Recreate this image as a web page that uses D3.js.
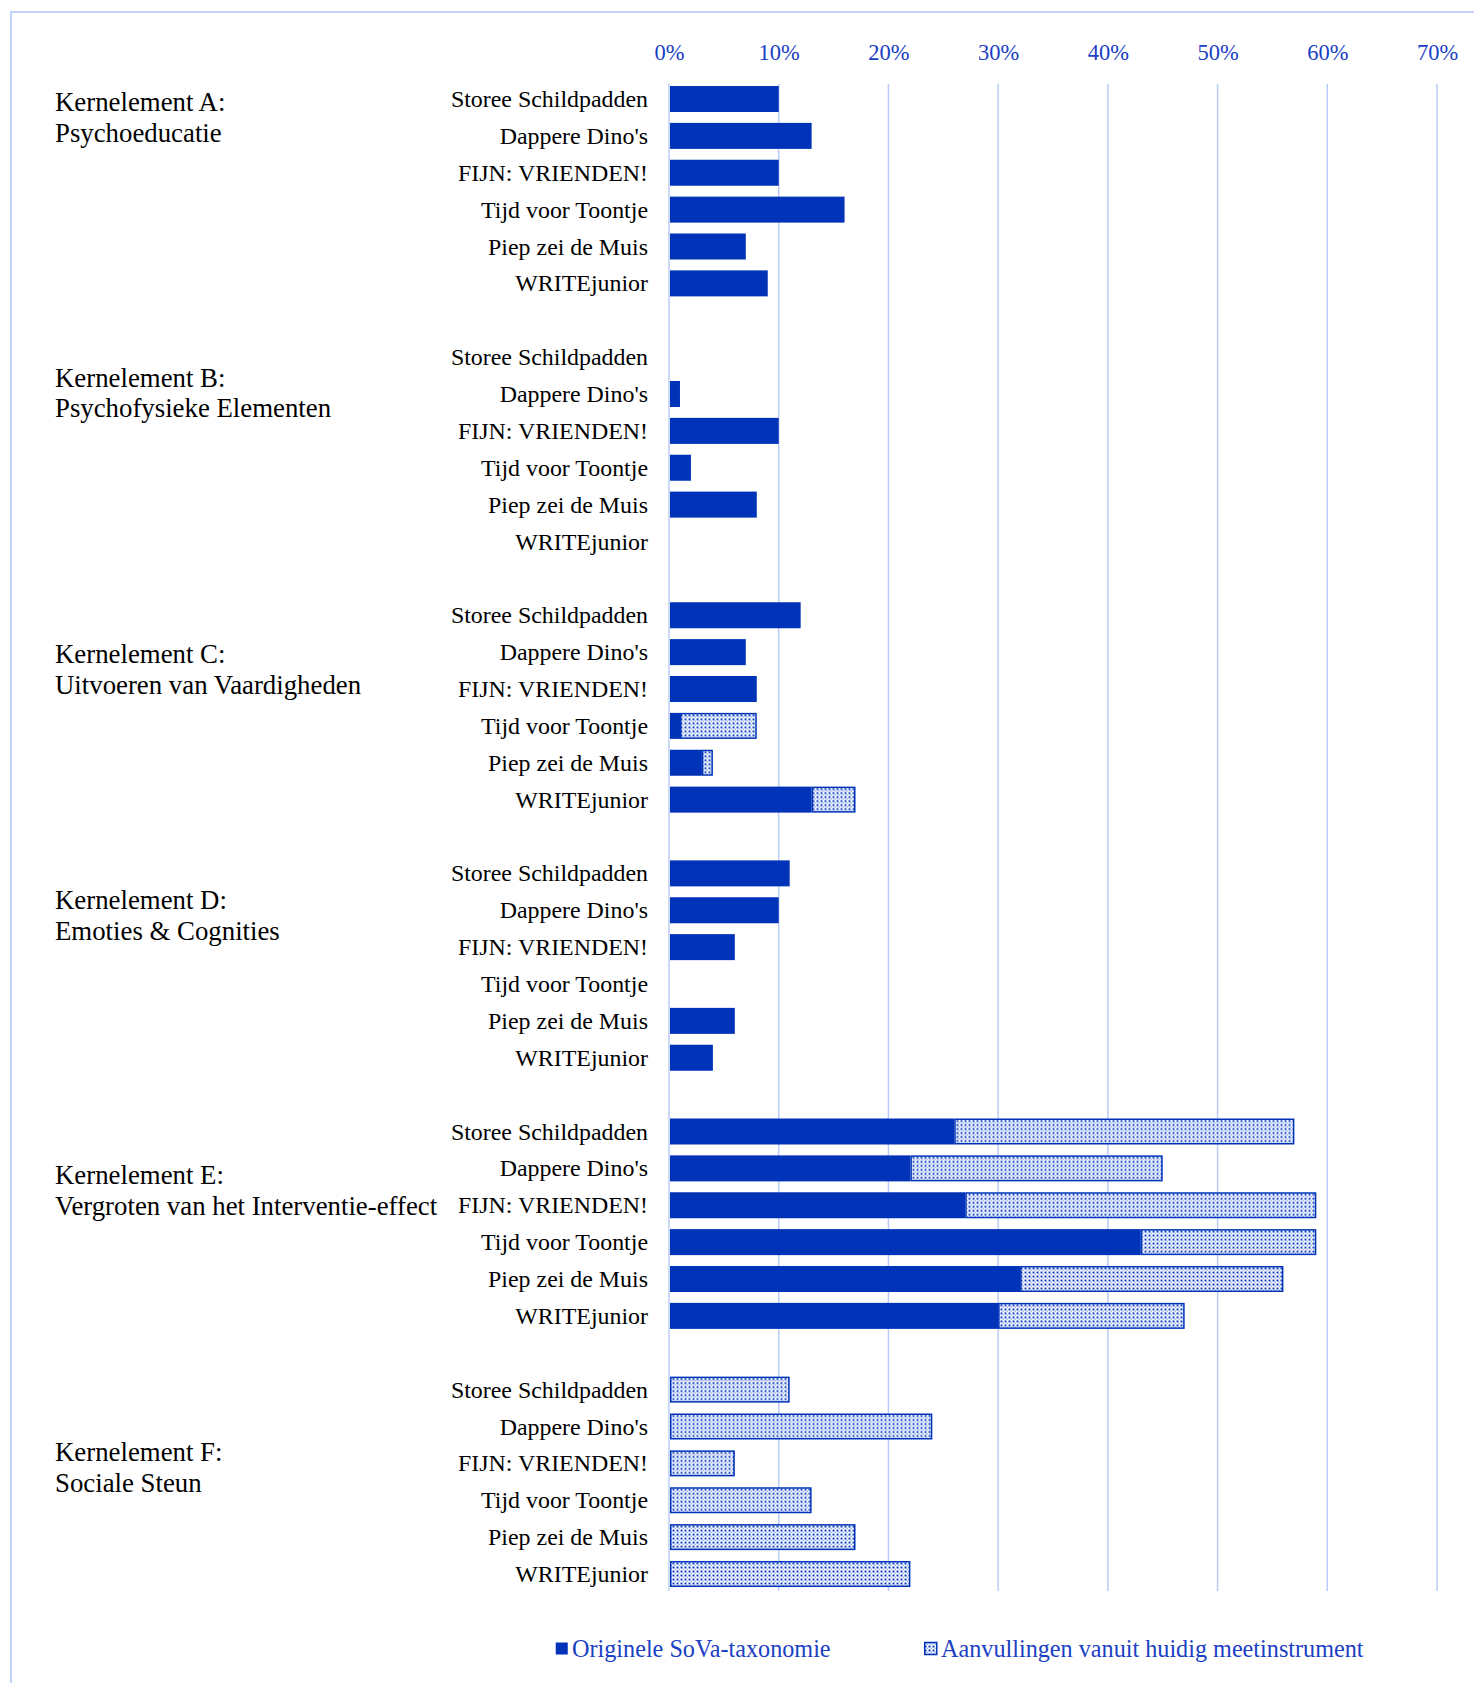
<!DOCTYPE html>
<html>
<head>
<meta charset="utf-8">
<script src="https://cdn.jsdelivr.net/npm/d3@7"></script>
<style>
  body { margin: 0; background: #fff; }
  text { font-family: "Liberation Serif", "Times New Roman", serif; }
</style>
</head>
<body>
<div id="chart"></div>
<script>
// programmes, same order in every kernelement
const programmes = [
  "Storee Schildpadden",
  "Dappere Dino's",
  "FIJN: VRIENDEN!",
  "Tijd voor Toontje",
  "Piep zei de Muis",
  "WRITEjunior"
];
const groupLabels = [
  ["Kernelement A:", "Psychoeducatie"],
  ["Kernelement B:", "Psychofysieke Elementen"],
  ["Kernelement C:", "Uitvoeren van Vaardigheden"],
  ["Kernelement D:", "Emoties & Cognities"],
  ["Kernelement E:", "Vergroten van het Interventie-effect"],
  ["Kernelement F:", "Sociale Steun"]
];
// percentages, one row per kernelement
const original = [
  [10, 13, 10, 16, 7, 9],
  [0, 1, 10, 2, 8, 0],
  [12, 7, 8, 1, 3, 13],
  [11, 10, 6, 0, 6, 4],
  [26, 22, 27, 43, 32, 30],
  [0, 0, 0, 0, 0, 0]
];
const additions = [
  [0, 0, 0, 0, 0, 0],
  [0, 0, 0, 0, 0, 0],
  [0, 0, 0, 7, 1, 4],
  [0, 0, 0, 0, 0, 0],
  [31, 23, 32, 16, 24, 17],
  [11, 24, 6, 13, 17, 22]
];
const tickValues = [0, 10, 20, 30, 40, 50, 60, 70];
const legendLabels = ["Originele SoVa-taxonomie", "Aanvullingen vanuit huidig meetinstrument"];

const W = 1474, H = 1683;
const blue = "#0033b8";
const textBlue = "#1a40c4";
const gridColor = "#b9cbf7";
// where the two-line group label sits, in rows below the group's first bar
const labelShift = [0.12, 0.58, 1.08, 0.76, 1.22, 1.72];

const svg = d3.select("#chart").append("svg")
  .attr("width", W).attr("height", H);

const defs = svg.append("defs");
const pat = defs.append("pattern")
  .attr("id", "dots")
  .attr("patternUnits", "userSpaceOnUse")
  .attr("width", 4).attr("height", 4);
pat.append("rect").attr("width", 4).attr("height", 4).attr("fill", "#fff");
pat.append("rect").attr("x", 0.5).attr("y", 0.5).attr("width", 2).attr("height", 2).attr("fill", "#0a3cc4");
pat.append("rect").attr("x", 2.7).attr("y", 2.7).attr("width", 1.1).attr("height", 1.1).attr("fill", "#5a80e0");

// frame
svg.append("path")
  .attr("d", `M11,${H} V12 H${W}`)
  .attr("fill", "none")
  .attr("stroke", "#c3d2f8")
  .attr("stroke-width", 2);

const x = d3.scaleLinear().domain([0, 70]).range([669, 1437]);
// slot index -> row centre (6 rows + 1 gap per group)
const slotsPerGroup = programmes.length + 1;
const y = d3.scaleLinear()
  .domain([0, slotsPerGroup * groupLabels.length - 2])
  .range([99, 1574]);
const barH = 26;

// gridlines
svg.append("g").selectAll("line")
  .data(tickValues)
  .join("line")
  .attr("x1", d => x(d)).attr("x2", d => x(d))
  .attr("y1", 84).attr("y2", 1591)
  .attr("stroke", gridColor)
  .attr("stroke-width", 1.5);

// top axis
const axis = svg.append("g")
  .attr("transform", "translate(0,60)")
  .call(d3.axisTop(x).tickValues(tickValues).tickSize(0).tickPadding(0).tickFormat(d => d + "%"));
axis.select(".domain").remove();
axis.selectAll("text")
  .attr("fill", textBlue)
  .attr("font-size", 22.5)
  .attr("font-family", "Liberation Serif");

// rows
const rows = [];
original.forEach((vals, g) => {
  vals.forEach((v, r) => {
    rows.push({ g, r, slot: g * slotsPerGroup + r, name: programmes[r], orig: v, add: additions[g][r] });
  });
});

const rowG = svg.append("g").selectAll("g")
  .data(rows)
  .join("g")
  .attr("transform", d => `translate(0,${y(d.slot)})`);

rowG.append("text")
  .attr("x", 648)
  .attr("y", 8)
  .attr("text-anchor", "end")
  .attr("font-size", 23.9)
  .attr("fill", "#000")
  .text(d => d.name);

rowG.filter(d => d.orig > 0).append("rect")
  .attr("x", x(0) + 1)
  .attr("y", -barH / 2)
  .attr("width", d => x(d.orig) - x(0) - 1)
  .attr("height", barH)
  .attr("fill", blue);

rowG.filter(d => d.add > 0).append("rect")
  .attr("x", d => x(d.orig) + (d.orig > 0 ? 0.75 : 1.75))
  .attr("y", -barH / 2 + 0.75)
  .attr("width", d => x(d.orig + d.add) - x(d.orig) - (d.orig > 0 ? 1.5 : 2.5))
  .attr("height", barH - 1.5)
  .attr("fill", "url(#dots)")
  .attr("stroke", blue)
  .attr("stroke-width", 1.5);

// group labels
const grp = svg.append("g").selectAll("text")
  .data(groupLabels)
  .join("text")
  .attr("font-size", 26.8)
  .attr("fill", "#000");
grp.each(function(lines, g) {
  const cy = y(g * slotsPerGroup + labelShift[g]);
  d3.select(this).selectAll("tspan")
    .data(lines)
    .join("tspan")
    .attr("x", 55)
    .attr("y", (d, i) => cy + 8 + i * 30.5)
    .text(d => d);
});

// legend
const legend = svg.append("g").attr("transform", "translate(0,1649)");
const legendX = [555, 924];
legendLabels.forEach((lab, i) => {
  const item = legend.append("g").attr("transform", `translate(${legendX[i]},0)`);
  item.append("rect")
    .attr("x", 0.75).attr("y", -6.5).attr("width", 12).attr("height", 12)
    .attr("fill", i === 0 ? blue : "url(#dots)")
    .attr("stroke", blue)
    .attr("stroke-width", i === 0 ? 0 : 1.5);
  item.append("text")
    .attr("x", 17)
    .attr("y", 8)
    .attr("font-size", 24.2)
    .attr("fill", textBlue)
    .text(lab);
});
</script>
</body>
</html>
